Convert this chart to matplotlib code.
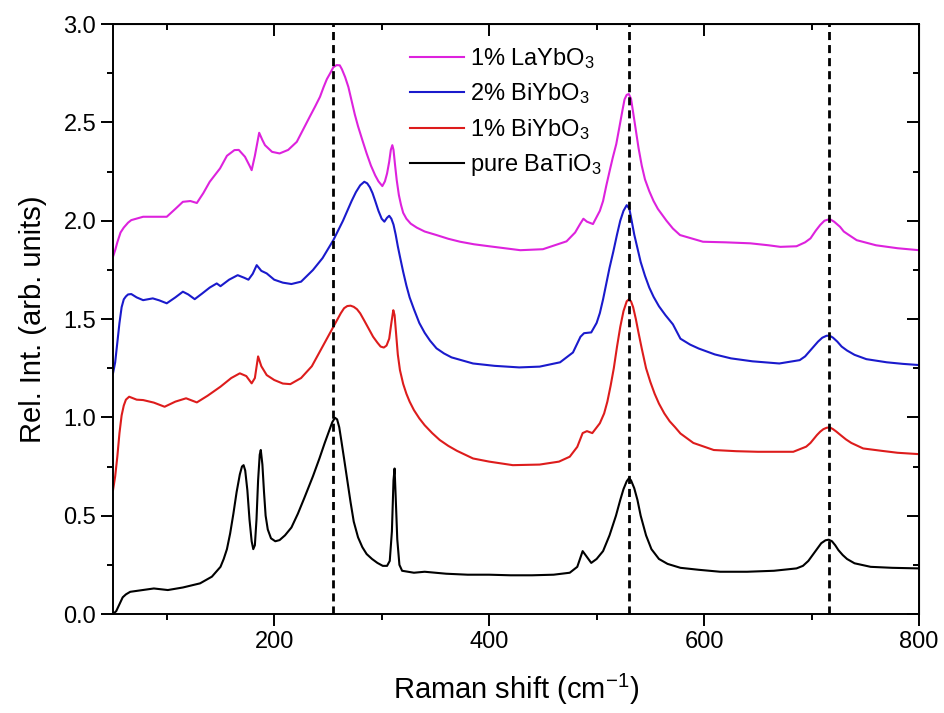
import matplotlib
matplotlib.use("Agg")
import matplotlib.pyplot as plt
from matplotlib.ticker import MultipleLocator, FormatStrFormatter

plt.rcParams['font.family'] = ['Liberation Sans', 'DejaVu Sans']
plt.rcParams['mathtext.fontset'] = 'custom'
plt.rcParams['mathtext.rm'] = 'Liberation Sans'
plt.rcParams['mathtext.it'] = 'Liberation Sans:italic'
plt.rcParams['mathtext.default'] = 'rm'

# pure BaTiO3
x_bto = [50, 53, 56, 59, 62, 66, 75, 88, 101, 115, 131, 142, 150, 153, 156, 159, 162, 165, 168, 170,
         171.5, 173, 175, 177, 179, 180.5, 182, 183.5, 185, 186.5, 187.5, 189, 190.5, 192, 194, 197,
         201, 205, 210, 216, 222, 228, 236, 242, 247, 251, 254, 256.5, 258.5, 260.5, 262.5, 265, 268,
         271, 274, 278, 282, 286, 291, 296, 301, 305, 307.5, 309.5, 311, 312, 313, 314.5, 316.5, 319,
         330, 340, 360, 380, 400, 420, 440, 460, 475, 482, 487, 491, 495, 500, 506, 512, 518, 522,
         525, 528, 530, 532, 535, 538, 541, 546, 551, 558, 566, 578, 595, 615, 640, 665, 686, 692,
         697, 701, 705, 709, 713, 716, 719, 722, 725, 729, 733, 740, 755, 775, 800]
y_bto = [0.0, 0.015, 0.05, 0.085, 0.1, 0.113, 0.12, 0.13, 0.122, 0.135, 0.156, 0.19, 0.24, 0.28, 0.33,
         0.41, 0.51, 0.62, 0.71, 0.75, 0.757, 0.73, 0.63, 0.48, 0.37, 0.33, 0.35, 0.48, 0.68, 0.81,
         0.834, 0.76, 0.62, 0.50, 0.43, 0.385, 0.37, 0.376, 0.40, 0.44, 0.51, 0.59, 0.70, 0.79, 0.87,
         0.93, 0.975, 0.998, 0.99, 0.95, 0.88, 0.79, 0.68, 0.57, 0.47, 0.39, 0.34, 0.305, 0.28, 0.26,
         0.245, 0.245, 0.27, 0.42, 0.68, 0.74, 0.6, 0.38, 0.25, 0.22, 0.21, 0.215, 0.205, 0.2, 0.2,
         0.197, 0.197, 0.2, 0.21, 0.24, 0.32, 0.29, 0.26, 0.28, 0.32, 0.4, 0.5, 0.58, 0.635, 0.675,
         0.69, 0.68, 0.64, 0.58, 0.5, 0.4, 0.33, 0.28, 0.255, 0.235, 0.225, 0.215, 0.215, 0.22, 0.232,
         0.245, 0.27, 0.3, 0.33, 0.36, 0.375, 0.378, 0.37, 0.35, 0.325, 0.3, 0.28, 0.258, 0.24, 0.235,
         0.232]

# 1% BiYbO3
x_bi1 = [50, 52, 54, 56, 58, 60, 62, 65, 72, 78, 88, 98, 108, 118, 128, 138, 150, 160, 168, 174,
         179, 182, 185, 188, 193, 200, 208, 215, 225, 235, 245, 255, 262, 265, 268, 271, 274, 277, 280,
         284, 288, 292, 296, 299, 302, 304.5, 307, 309, 310.8, 312, 313.5, 315, 317, 320, 323, 326, 330,
         335, 340, 347, 354, 362, 370, 385, 400, 422, 447, 465, 475, 482, 487, 491, 496, 503, 507, 510,
         513, 516, 519, 522, 525, 528, 530, 532, 534, 536.5, 539, 542, 546, 550, 554, 558, 563, 568,
         573, 578, 590, 609, 630, 650, 670, 683, 695, 699, 702, 705, 708, 711, 714, 717, 720, 723, 727,
         732, 737, 748, 765, 780, 800]
y_bi1 = [0.63, 0.70, 0.80, 0.92, 1.01, 1.06, 1.09, 1.105, 1.09, 1.088, 1.075, 1.054, 1.08, 1.097,
         1.076, 1.11, 1.156, 1.2, 1.224, 1.21, 1.173, 1.2, 1.31, 1.26, 1.215, 1.19, 1.172, 1.169, 1.2,
         1.26, 1.36, 1.46, 1.53, 1.555, 1.566, 1.568, 1.562, 1.55, 1.529, 1.49, 1.45, 1.41, 1.38, 1.36,
         1.355, 1.365, 1.40, 1.48, 1.545, 1.52, 1.42, 1.32, 1.24, 1.17, 1.12, 1.08, 1.037, 0.995, 0.96,
         0.92, 0.885, 0.855, 0.83, 0.791, 0.775, 0.757, 0.76, 0.775, 0.8, 0.85, 0.92, 0.93, 0.92, 0.97,
         1.02, 1.08, 1.16, 1.25, 1.36, 1.46, 1.54, 1.59, 1.6, 1.59, 1.56, 1.5, 1.43, 1.35, 1.25, 1.18,
         1.12, 1.07, 1.02, 0.98, 0.95, 0.918, 0.87, 0.834, 0.828, 0.825, 0.825, 0.825, 0.851, 0.87,
         0.89, 0.91, 0.927, 0.94, 0.947, 0.949, 0.94, 0.928, 0.91, 0.888, 0.87, 0.842, 0.83, 0.82,
         0.813]

# 2% BiYbO3
x_bi2 = [50, 52, 54, 56, 58, 60, 62, 64, 67, 72, 78, 87, 93, 100, 108, 115, 120, 126, 133, 140,
         146.5, 150, 158, 166, 172, 176, 180, 183.7, 188, 193, 200, 208, 216, 225, 236, 245, 255, 264,
         268, 272, 276, 280, 283.8, 286.5, 289, 291.5, 294, 297, 300, 302.5, 305, 307, 309, 311, 313,
         315, 317, 320, 323, 326, 330, 335, 340, 345, 351, 358, 365, 385, 405, 428, 447, 466, 478, 485,
         488.3, 495, 500, 503, 506, 509, 512, 515.5, 519, 522, 525, 528, 530.5, 532.6, 535, 538, 541,
         545, 549, 553, 558, 564, 571, 578, 587, 595, 610, 625, 645, 670, 689, 694, 698, 702, 706, 710,
         714, 717, 720, 724, 728, 733, 740, 751, 770, 785, 800]
y_bi2 = [1.224, 1.28, 1.38, 1.48, 1.56, 1.6, 1.615, 1.625, 1.627, 1.61, 1.596, 1.605, 1.595, 1.58,
         1.61, 1.639, 1.625, 1.601, 1.63, 1.66, 1.681, 1.667, 1.7, 1.723, 1.71, 1.70, 1.73, 1.774,
         1.745, 1.732, 1.70, 1.685, 1.678, 1.69, 1.749, 1.81, 1.901, 2.0, 2.05, 2.1, 2.145, 2.18,
         2.198, 2.19, 2.17, 2.14, 2.10, 2.05, 2.01, 1.995, 2.015, 2.025, 2.01, 1.98, 1.93, 1.87, 1.817,
         1.74, 1.67, 1.61, 1.55, 1.48, 1.43, 1.39, 1.351, 1.325, 1.305, 1.274, 1.262, 1.254, 1.258,
         1.28, 1.33, 1.41, 1.428, 1.432, 1.48, 1.53, 1.6, 1.68, 1.76, 1.842, 1.93, 2.0, 2.05, 2.079,
         2.06, 2.0, 1.93, 1.86, 1.79, 1.72, 1.66, 1.613, 1.565, 1.52, 1.473, 1.40, 1.37, 1.35, 1.32,
         1.30, 1.285, 1.274, 1.291, 1.31, 1.335, 1.36, 1.385, 1.405, 1.415, 1.415, 1.405, 1.385, 1.36,
         1.34, 1.318, 1.296, 1.28, 1.272, 1.266]

# 1% LaYbO3
x_la1 = [50, 52, 54, 57, 60, 64, 67, 78, 90, 100, 108, 115, 122, 128, 134, 140, 149.6, 156, 163, 167,
         172.8, 177, 179, 182, 186, 189, 191.4, 198, 205, 213, 221, 233, 238, 242.6, 246, 249, 252,
         255, 258, 261, 263, 266, 269, 272, 275, 278, 282, 286, 290, 294, 297, 300.6, 303, 305, 307,
         308.5, 309.9, 311, 312.5, 314, 316, 318, 320, 323, 327, 332.6, 340, 351, 362, 373, 386, 400,
         429, 450, 472, 480, 484.6, 487.7, 491, 496.6, 503, 506, 509, 512, 515, 518.3, 521, 524, 526,
         528, 530, 532, 534, 536.5, 539, 542, 545, 549, 553, 557, 561, 565, 571, 577.6, 599, 620, 643,
         660, 671, 686, 694, 699, 704, 708, 712, 717, 721, 726.5, 730, 734, 742, 760, 780, 800]
y_la1 = [1.817, 1.85, 1.89, 1.94, 1.965, 1.99, 2.003, 2.02, 2.02, 2.02, 2.06, 2.096, 2.1, 2.09, 2.14,
         2.198, 2.266, 2.33, 2.359, 2.36, 2.325, 2.28, 2.257, 2.33, 2.447, 2.41, 2.384, 2.35, 2.342,
         2.36, 2.401, 2.528, 2.58, 2.63, 2.68, 2.72, 2.749, 2.78, 2.791, 2.79, 2.77, 2.73, 2.68, 2.61,
         2.54, 2.48, 2.41, 2.342, 2.28, 2.23, 2.2, 2.176, 2.2, 2.24, 2.3, 2.36, 2.384, 2.36, 2.28,
         2.206, 2.13, 2.08, 2.04, 2.01, 1.985, 1.965, 1.945, 1.927, 1.908, 1.893, 1.88, 1.87, 1.85,
         1.855, 1.895, 1.94, 1.983, 2.01, 1.995, 1.983, 2.05, 2.1, 2.178, 2.25, 2.32, 2.39, 2.47, 2.56,
         2.617, 2.64, 2.644, 2.62, 2.55, 2.46, 2.37, 2.28, 2.21, 2.15, 2.1, 2.06, 2.03, 2.0, 1.96,
         1.927, 1.893, 1.89, 1.885, 1.875, 1.867, 1.87, 1.89, 1.91, 1.95, 1.978, 2.0, 2.008, 1.995,
         1.969, 1.945, 1.93, 1.901, 1.875, 1.86, 1.85]

peaks = [255, 530, 716]

fig = plt.figure(figsize=(9.45, 7.13), dpi=100)
ax = fig.add_axes([0.1196, 0.1388, 0.8529, 0.8275])

ax.plot(x_la1, y_la1, color='#dd22dd', lw=1.5, label='1% LaYbO$_3$')
ax.plot(x_bi2, y_bi2, color='#1a1acc', lw=1.5, label='2% BiYbO$_3$')
ax.plot(x_bi1, y_bi1, color='#dd1c1c', lw=1.5, label='1% BiYbO$_3$')
ax.plot(x_bto, y_bto, color='black', lw=1.5, label='pure BaTiO$_3$')

for p in peaks:
    ax.axvline(p, color='black', lw=2, linestyle=(0, (2.9, 1.8)))

ax.set_xlim(50, 800)
ax.set_ylim(0, 3.0)
ax.xaxis.set_major_locator(MultipleLocator(200))
ax.xaxis.set_minor_locator(MultipleLocator(100))
ax.yaxis.set_major_locator(MultipleLocator(0.5))
ax.yaxis.set_minor_locator(MultipleLocator(0.25))
ax.yaxis.set_major_formatter(FormatStrFormatter('%.1f'))
ax.tick_params(which='both', direction='out', width=1.4, labelsize=17)
ax.tick_params(which='major', length=8.6)
ax.tick_params(which='minor', length=4.3)
for s in ax.spines.values():
    s.set_linewidth(1.4)

# inward ticks on top and right
top = ax.secondary_xaxis('top')
top.xaxis.set_major_locator(MultipleLocator(200))
top.xaxis.set_minor_locator(MultipleLocator(100))
top.tick_params(which='both', direction='in', width=1.4, labeltop=False)
top.tick_params(which='major', length=8.6)
top.tick_params(which='minor', length=4.3)
right = ax.secondary_yaxis('right')
right.yaxis.set_major_locator(MultipleLocator(0.5))
right.yaxis.set_minor_locator(MultipleLocator(0.25))
right.tick_params(which='both', direction='in', width=1.4, labelright=False)
right.tick_params(which='major', length=8.6)
right.tick_params(which='minor', length=4.3)

ax.set_xlabel('Raman shift (cm$^{-1}$)', fontsize=21, labelpad=14)
ax.set_ylabel('Rel. Int. (arb. units)', fontsize=21, labelpad=12)

ax.legend(loc='upper left', bbox_to_anchor=(0.368, 0.963), frameon=False, fontsize=17,
          handlelength=2.3, handletextpad=0.25, labelspacing=0.45, borderpad=0, borderaxespad=0)

fig.savefig('out.png', dpi=100)
